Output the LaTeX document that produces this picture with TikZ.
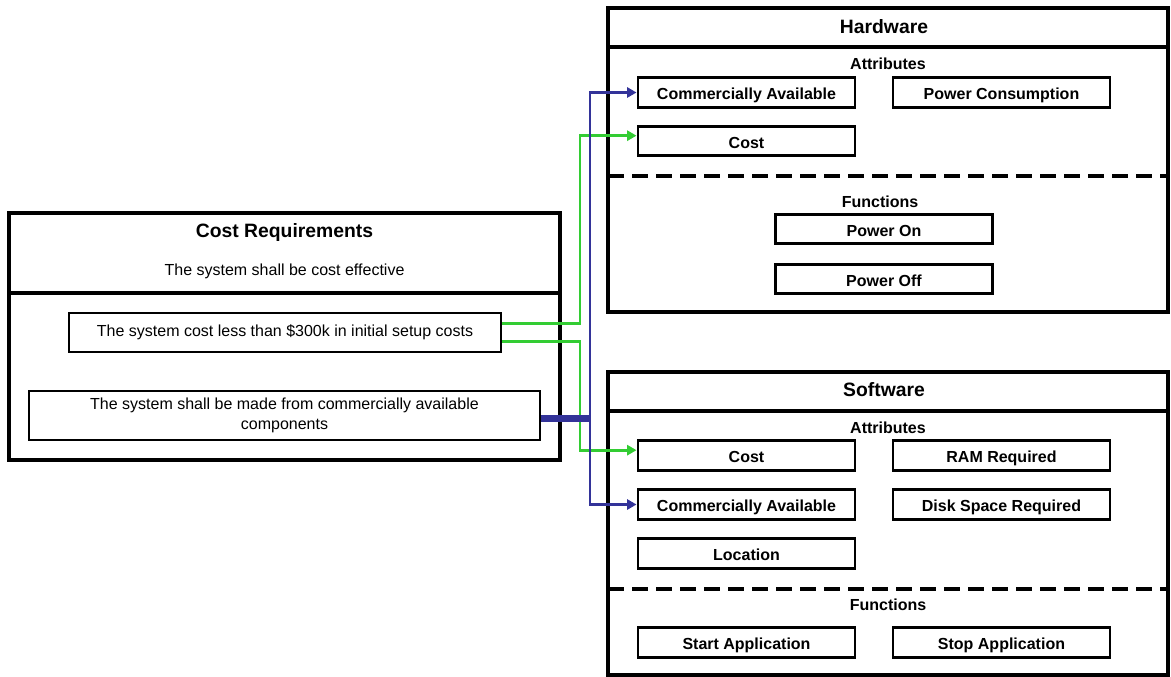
\documentclass[tikz,border=0pt]{standalone}
\usepackage{fontspec}
\setmainfont{Liberation Sans}
\usetikzlibrary{arrows.meta,calc,positioning}
\definecolor{linkblue}{RGB}{51,51,153}
\definecolor{linkgreen}{RGB}{51,204,51}
\tikzset{
  frame/.style={draw=black, line width=3pt},
  divider/.style={black, line width=3pt},
  dashdivider/.style={black, line width=3pt, dash pattern=on 12pt off 6pt},
  attrbox/.style={draw=black, line width=2.2pt, fill=white,
                  minimum width=162.75pt, minimum height=22pt,
                  text height=11pt, text depth=0pt,
                  inner sep=2pt, font=\fontsize{12}{14}\selectfont\bfseries},
  reqbox/.style={draw=black, line width=2.2pt, fill=white,
                 inner sep=2pt, align=center,
                 font=\fontsize{12}{14.5}\selectfont},
  heading/.style={font=\fontsize{14.5}{17}\selectfont\bfseries},
  sectlab/.style={font=\fontsize{12}{14}\selectfont\bfseries},
  plainlab/.style={font=\fontsize{12}{14}\selectfont},
  greenlink/.style={linkgreen, line width=2.2pt,
                    -{Triangle[length=7pt,width=7.5pt]}},
  bluelink/.style={linkblue, line width=2.2pt,
                   -{Triangle[length=7pt,width=7.5pt]}},
  bluestub/.style={linkblue, line width=5.4pt},
}

\begin{document}
\begin{tikzpicture}[x=0.75pt,y=-0.75pt]
  \path[use as bounding box] (0,0) rectangle (1171,677);

  \draw[frame] (9,213) rectangle (560,460);
  \draw[divider] (9,293) -- (560,293);
  \node[heading] (costtitle) at (284.5,233) {Cost Requirements};
  \node[plainlab] (costsub) at (284.5,271) {The system shall be cost effective};
  \node[reqbox, minimum width=324pt, minimum height=29.25pt] (reqsetup) at (285,332.5)
    {The system cost less than \$300k in initial setup costs};
  \node[reqbox, minimum width=383.25pt, minimum height=36.75pt] (reqcots) at (284.5,415.5)
    {The system shall be made from commercially available\\components};

  \draw[frame] (608,8) rectangle (1168,312);
  \draw[divider] (608,47) -- (1168,47);
  \draw[dashdivider] (608,176) -- (1168,176);
  \node[heading] (hwtitle) at (884,27) {Hardware};
  \node[sectlab] (hwattr) at (888,64) {Attributes};
  \node[attrbox] (hwcommercial) at (746.5,92.5) {Commercially Available};
  \node[attrbox] (hwpower) at (1001.5,92.5) {Power Consumption};
  \node[attrbox] (hwcost) at (746.5,141) {Cost};
  \node[sectlab] (hwfunc) at (880,202) {Functions};
  \node[attrbox] (poweron) at (884,229) {Power On};
  \node[attrbox] (poweroff) at (884,279) {Power Off};

  \draw[frame] (608,372) rectangle (1168,675);
  \draw[divider] (608,411) -- (1168,411);
  \draw[dashdivider] (608,589) -- (1168,589);
  \node[heading] (swtitle) at (884,390) {Software};
  \node[sectlab] (swattr) at (888,428) {Attributes};
  \node[attrbox] (swcost) at (746.5,455.5) {Cost};
  \node[attrbox] (swram) at (1001.5,455.5) {RAM Required};
  \node[attrbox] (swcommercial) at (746.5,504.5) {Commercially Available};
  \node[attrbox] (swdisk) at (1001.5,504.5) {Disk Space Required};
  \node[attrbox] (swlocation) at (746.5,553.5) {Location};
  \node[sectlab] (swfunc) at (888,605) {Functions};
  \node[attrbox] (startapp) at (746.5,642.5) {Start Application};
  \node[attrbox] (stopapp) at (1001.5,642.5) {Stop Application};

  \coordinate (greenbus) at (580,0);
  \coordinate (bluebus) at (590,0);
  \coordinate (setupout1) at ([yshift=7pt]reqsetup.east);
  \coordinate (setupout2) at ([yshift=-7pt]reqsetup.east);
  \coordinate (hwcostin) at ([yshift=4pt]hwcost.west);
  \coordinate (swcostin) at ([yshift=4pt]swcost.west);
  \coordinate (cotsout) at ([yshift=-2.5pt]reqcots.east);
  \draw[greenlink] (setupout1) -| (greenbus |- hwcostin) -- (hwcostin);
  \draw[greenlink] (setupout2) -| (greenbus |- swcostin) -- (swcostin);
  \draw[bluestub] (cotsout) -- (bluebus |- cotsout);
  \draw[bluelink] (bluebus |- cotsout) |- (hwcommercial.west);
  \draw[bluelink] (bluebus |- cotsout) |- (swcommercial.west);
\end{tikzpicture}
\end{document}
